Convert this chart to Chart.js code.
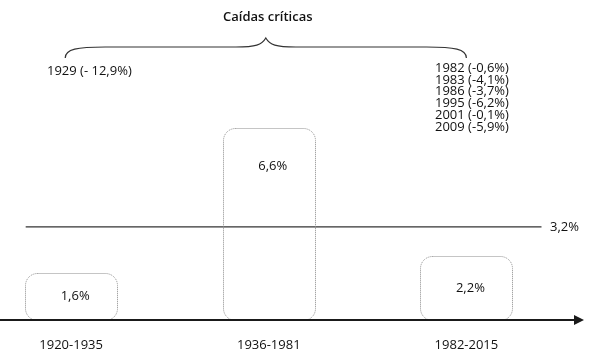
<!DOCTYPE html>
<html>
<head>
<meta charset="utf-8">
<script src="https://cdn.jsdelivr.net/npm/chart.js@4"></script>
<style>
  html, body { margin: 0; padding: 0; background: #fff; }
  #wrap { width: 589px; height: 358px; }
</style>
</head>
<body>
<div id="wrap"><canvas id="chart"></canvas></div>
<script>
// periods and average growth
var periods = ['1920-1935', '1936-1981', '1982-2015'];
var growth = [1.6, 6.6, 2.2];
var average = 3.2;
var title = 'Caídas críticas';
var leftDrops = ['1929 (- 12,9%)'];
var rightDrops = ['1982 (-0,6%)', '1983 (-4,1%)', '1986 (-3,7%)', '1995 (-6,2%)', '2001 (-0,1%)', '2009 (-5,9%)'];

var FONT = '"Open Sans", "DejaVu Sans", sans-serif';

function pct(v) {
    return v.toFixed(1).replace('.', ',') + '%';
}

// dotted rounded boxes, labels, axis arrow, brace
var decor = {
    id: 'decor',
    afterDatasetsDraw: function(chart) {
        var ctx = chart.ctx;
        var xs = chart.scales.x, ys = chart.scales.y;
        var area = chart.chartArea;
        var meta = chart.getDatasetMeta(0);

        ctx.save();
        // boxes
        meta.data.forEach(function(bar, i) {
            var left = Math.round(bar.x - bar.width / 2);
            var top = Math.round(bar.y);
            var h = bar.base - top;
            ctx.beginPath();
            ctx.setLineDash([1, 1]);
            ctx.lineWidth = 1;
            ctx.strokeStyle = '#8a8a8a';
            ctx.roundRect(left + 0.5, top + 0.5, bar.width, h, 12);
            ctx.stroke();
            ctx.setLineDash([]);
            ctx.fillStyle = '#111';
            ctx.font = '13px ' + FONT;
            ctx.textAlign = 'center';
            ctx.textBaseline = 'middle';
            var ly = Math.min((top + bar.base) / 2, top + 38);
            ctx.fillText(pct(growth[i]), bar.x + 4, ly);
            // category label under the axis
            ctx.fillText(periods[i], bar.x, area.bottom + 25);
        });

        // average label
        var ym = ys.getPixelForValue(average);
        ctx.textAlign = 'left';
        ctx.fillText(pct(average), 550, ym);

        // axis with arrow
        var ay = ys.getPixelForValue(0);
        ctx.strokeStyle = '#1a1a1a';
        ctx.lineWidth = 2;
        ctx.beginPath();
        ctx.moveTo(0, ay);
        ctx.lineTo(area.right - 6, ay);
        ctx.stroke();
        ctx.fillStyle = '#1a1a1a';
        ctx.beginPath();
        ctx.moveTo(area.right - 9, ay - 5);
        ctx.lineTo(area.right + 1, ay);
        ctx.lineTo(area.right - 9, ay + 5);
        ctx.closePath();
        ctx.fill();

        // brace
        var bx0 = xs.getPixelForValue(-0.03), bx1 = xs.getPixelForValue(2);
        var mid = (bx0 + bx1) / 2;
        var tip = 38, flat = 47, end = 58;
        ctx.strokeStyle = '#333';
        ctx.lineWidth = 1.2;
        ctx.beginPath();
        ctx.moveTo(bx0, end);
        ctx.bezierCurveTo(bx0, flat + 2, bx0 + 12, flat, bx0 + 40, flat);
        ctx.lineTo(mid - 30, flat);
        ctx.bezierCurveTo(mid - 10, flat, mid - 4, flat - 2, mid, tip);
        ctx.bezierCurveTo(mid + 4, flat - 2, mid + 10, flat, mid + 30, flat);
        ctx.lineTo(bx1 - 40, flat);
        ctx.bezierCurveTo(bx1 - 12, flat, bx1, flat + 2, bx1, end);
        ctx.stroke();

        ctx.fillStyle = '#111';
        ctx.textAlign = 'center';
        ctx.font = '600 13px ' + FONT;
        ctx.fillText(title, mid + 2, 17);

        ctx.font = '13px ' + FONT;
        ctx.textAlign = 'left';
        leftDrops.forEach(function(t, i) {
            ctx.fillText(t, 47, 71 + i * 11.8);
        });
        rightDrops.forEach(function(t, i) {
            ctx.fillText(t, 435, 68 + i * 11.8);
        });
        ctx.restore();
    }
};

var data = {
    datasets: [{
        type: 'bar',
        data: growth.map(function(v, i) { return { x: i, y: v }; }),
        backgroundColor: 'rgba(0,0,0,0)',
        borderWidth: 0,
        barThickness: 92
    }, {
        type: 'line',
        data: [{ x: -0.23, y: average }, { x: 2.38, y: average }],
        borderColor: '#333',
        borderWidth: 1.3,
        pointRadius: 0
    }]
};

new Chart(document.getElementById('chart'), {
    type: 'bar',
    data: data,
    options: {
        responsive: true,
        maintainAspectRatio: false,
        animation: false,
        layout: { padding: { left: 0, right: 6, top: 0, bottom: 38 } },
        plugins: {
            legend: { display: false },
            tooltip: { enabled: false }
        },
        scales: {
            x: { type: 'linear', min: -0.36, max: 2.59, offset: false, display: false },
            y: { min: 0, max: 11.0, display: false }
        }
    },
    plugins: [decor]
});
</script>
</body>
</html>
